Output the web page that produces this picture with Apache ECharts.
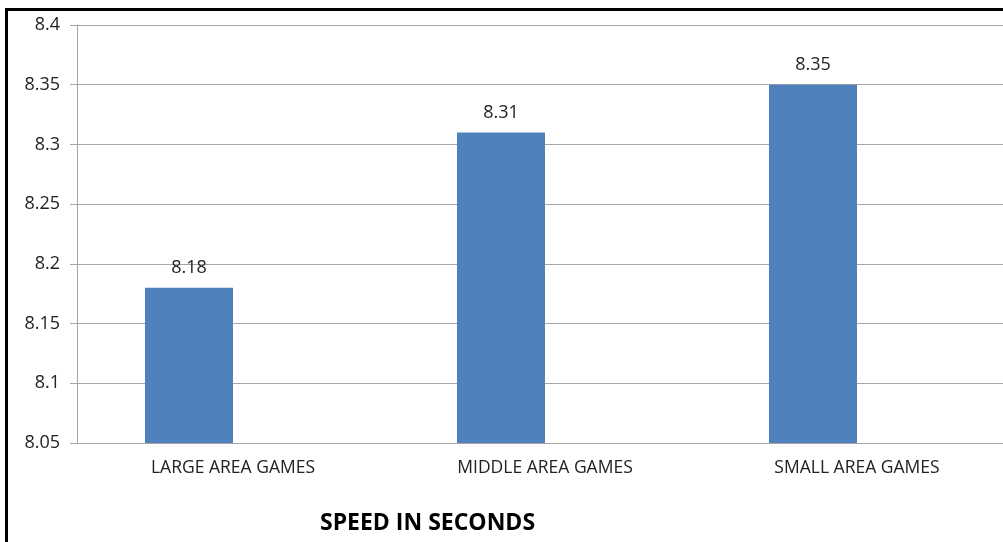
<!DOCTYPE html>
<html>
<head>
<meta charset="utf-8">
<script src="https://cdn.jsdelivr.net/npm/echarts@6/dist/echarts.min.js"></script>
<style>
  html, body { margin: 0; padding: 0; background: #fff; overflow: hidden; }
  #frame { position: absolute; left: 5px; top: 8px; width: 1010px; height: 540px;
           border-left: 3px solid #000; border-top: 3px solid #000; }
  #chart { position: absolute; left: 0; top: 0; width: 1013px; height: 542px; }
</style>
</head>
<body>
<div id="frame"></div>
<div id="chart"></div>
<script>
const categories = ["LARGE AREA GAMES", "MIDDLE AREA GAMES", "SMALL AREA GAMES"];
const speedValues = [8.18, 8.31, 8.35];
// the source chart reserves room for a second, empty series beside each bar
const emptySeries = [null, null, null];
const yMin = 8.05;
const yMax = 8.4;
const yStep = 0.05;

const fmt = (v) => String(parseFloat(Number(v).toFixed(2)));
const font = "Open Sans";

const chart = echarts.init(document.getElementById("chart"));
chart.setOption({
  animation: false,
  title: {
    text: "SPEED IN SECONDS",
    left: 315,
    top: 507,
    textStyle: { fontFamily: font, fontWeight: "bold", fontSize: 23, color: "#000" }
  },
  grid: { left: 77, right: 0, top: 25, bottom: 99 },
  xAxis: {
    type: "category",
    data: categories,
    axisLine: { lineStyle: { color: "#a6a6a6" } },
    axisTick: { length: 7, lineStyle: { color: "#a6a6a6" } },
    axisLabel: { color: "#222", fontFamily: font, fontSize: 17.5, margin: 16 }
  },
  yAxis: {
    type: "value",
    min: yMin,
    max: yMax,
    interval: yStep,
    axisLine: { show: true, lineStyle: { color: "#a6a6a6" } },
    axisTick: { show: true, length: 7, lineStyle: { color: "#a6a6a6" } },
    axisLabel: { color: "#222", fontFamily: font, fontSize: 18, margin: 17, formatter: fmt },
    splitLine: { lineStyle: { color: "#a6a6a6" } }
  },
  series: [{
    type: "bar",
    data: speedValues,
    barWidth: 88,
    barGap: "0%",
    itemStyle: { color: "#4f81bd" },
    label: {
      show: true,
      position: "top",
      distance: 11,
      color: "#222",
      fontFamily: font,
      fontSize: 18,
      formatter: (p) => fmt(p.value)
    }
  }, {
    type: "bar",
    data: emptySeries,
    barWidth: 88,
    barGap: "0%"
  }]
});
</script>
</body>
</html>
